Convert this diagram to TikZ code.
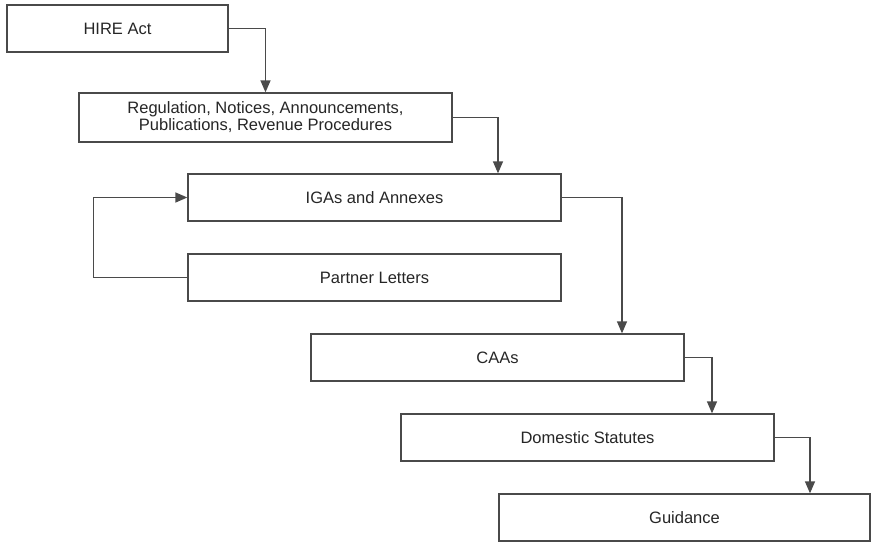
\documentclass[tikz,border=0pt]{standalone}
\usepackage{fontspec}
\setmainfont{Liberation Sans}
\usetikzlibrary{arrows.meta}
\definecolor{linegray}{HTML}{4A4A4A}
\definecolor{textgray}{HTML}{262626}
\begin{document}
\begin{tikzpicture}[x=1pt,y=-1pt,
  box/.style={draw=linegray, line width=1.3pt, rectangle, inner sep=0pt,
    minimum height=47pt, minimum width=373pt, align=center, text=textgray,
    font=\fontsize{16.5}{17}\selectfont},
  flow/.style={draw=linegray, line width=1.3pt,
    -{Triangle[length=12pt,width=10pt]}}]
  \useasboundingbox (0,0) rectangle (871,544);
  \fill[white] (0,0) rectangle (871,544);

  \node[box, minimum width=221pt] (hire) at (117.5,28.5) {HIRE Act};
  \node[box, minimum height=49pt] (reg) at (265.5,117.5)
    {Regulation, Notices, Announcements,\\Publications, Revenue Procedures};
  \node[box] (iga) at (374.5,197.5) {IGAs and Annexes};
  \node[box] (partner) at (374.5,277.5) {Partner Letters};
  \node[box] (caa) at (497.5,357.5) {CAAs};
  \node[box] (dom) at (587.5,437.5) {Domestic Statutes};
  \node[box, minimum width=371pt] (guide) at (684.5,517.5) {Guidance};

  \draw[flow] (hire.east) -| (reg.north);
  \draw[flow] (reg.east) -| ([xshift=123.5pt]iga.north);
  \draw[flow] (iga.east) -| ([xshift=124.5pt]caa.north);
  \draw[flow] (caa.east) -| ([xshift=124.5pt]dom.north);
  \draw[flow] (dom.east) -| ([xshift=125.5pt]guide.north);
  \draw[flow] (partner.west) -- ++(-94,0) |- (iga.west);
\end{tikzpicture}
\end{document}
